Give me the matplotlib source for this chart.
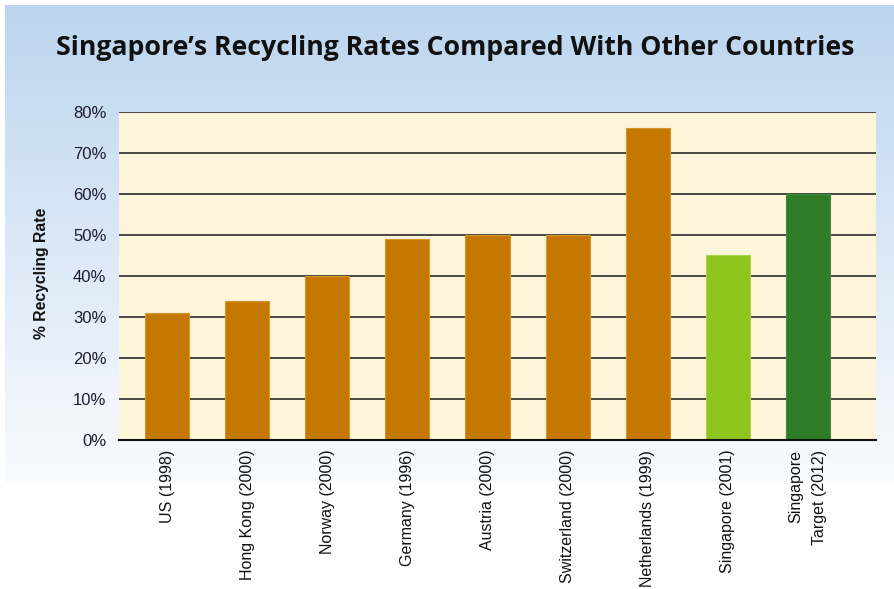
import numpy as np
import matplotlib.pyplot as plt

countries = ["US (1998)", "Hong Kong (2000)", "Norway (2000)", "Germany (1996)",
             "Austria (2000)", "Switzerland (2000)", "Netherlands (1999)",
             "Singapore (2001)", "Singapore\nTarget (2012)"]
rates = [31, 34, 40, 49, 50, 50, 76, 45, 60]
bar_colors = ["#c47800"] * 7 + ["#8fc41f", "#2e7d26"]
edge_colors = ["#d8952a"] * 7 + ["#a6d44a", "#3f8f35"]
y_ticks = [0, 10, 20, 30, 40, 50, 60, 70, 80]

W, H = 895, 589
fig = plt.figure(figsize=(W / 100, H / 100), dpi=100)
fig.patch.set_facecolor("white")

# backdrop: light blue fading to white
bg = fig.add_axes([0, 0, 1, 1])
bg.set_xlim(0, W)
bg.set_ylim(H, 0)
bg.axis("off")
top = np.array([0xbc, 0xd5, 0xef]) / 255
bot = np.array([0xf9, 0xfb, 0xfe]) / 255
t = np.linspace(0, 1, 256)[:, None]
grad = (top[None, :] * (1 - t) + bot[None, :] * t)[:, None, :]
bg.imshow(grad, extent=(5, W, 482, 5), aspect="auto", zorder=0)

fig.text(455 / W, 1 - 48 / H, "Singapore\u2019s Recycling Rates Compared With Other Countries",
         ha="center", va="center", fontsize=19.2, fontweight="bold",
         family="Open Sans", color="#111111")

left, right, ytop, ybot = 119, 876, 112, 440
ax = fig.add_axes([left / W, 1 - ybot / H, (right - left) / W, (ybot - ytop) / H])
ax.set_facecolor("#fdf5da")

x = np.arange(len(countries))
ax.bar(x, rates, width=0.55, color=bar_colors, edgecolor=edge_colors, linewidth=0.8, zorder=2)

ax.set_xlim(-0.6, 8.85)
ax.set_ylim(0, 80)
ax.set_yticks(y_ticks)
ax.set_yticklabels([f"{v}%" for v in y_ticks], fontsize=12, family="Liberation Sans",
                   color="#1c1c30")
ax.yaxis.grid(True, color="#2a2a2a", linewidth=1.2, zorder=1)
ax.set_axisbelow(True)
ax.tick_params(axis="y", length=0, pad=9)
ax.tick_params(axis="x", length=0, pad=7)
ax.set_xticks(x)
ax.set_xticklabels(countries, rotation=90, ha="center", va="top", multialignment="right",
                   linespacing=1.75, fontsize=11.5, family="Liberation Sans", color="#111111")

for side in ["left", "right", "top"]:
    ax.spines[side].set_visible(False)
ax.spines["bottom"].set_color("#111111")
ax.spines["bottom"].set_linewidth(1.5)
ax.spines["bottom"].set_zorder(3)

fig.text(42 / W, 1 - 273 / H, "% Recycling Rate", rotation=90, ha="center", va="center",
         fontsize=11.3, fontweight="bold", family="Liberation Sans", color="#111111")

fig.savefig("out.png", dpi=100)
